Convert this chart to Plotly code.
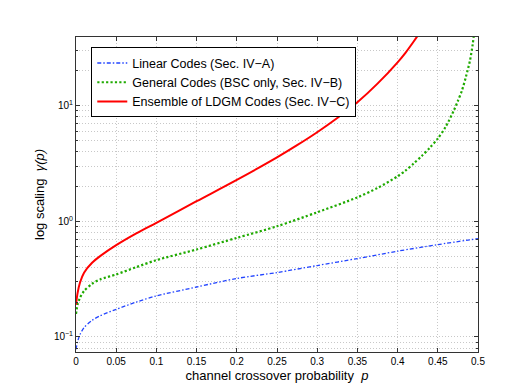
import plotly.graph_objects as go

# --- data ---
p_lin = [0, 0.002, 0.005, 0.01, 0.02, 0.03, 0.05, 0.075, 0.1, 0.15, 0.2, 0.25, 0.3, 0.35, 0.4, 0.45, 0.5]
g_lin = [0.078, 0.091, 0.105, 0.12, 0.139, 0.152, 0.173, 0.2, 0.226, 0.27, 0.32, 0.36, 0.414, 0.476, 0.551, 0.628, 0.708]

p_gen = [0, 0.002, 0.005, 0.01, 0.02, 0.03, 0.05, 0.075, 0.1, 0.15, 0.2, 0.25, 0.3, 0.35, 0.375,
         0.4, 0.41, 0.42, 0.43, 0.44, 0.45, 0.46, 0.47, 0.475, 0.48, 0.485, 0.49, 0.4934, 0.4955]
g_gen = [0.158, 0.191, 0.218, 0.249, 0.288, 0.314, 0.347, 0.401, 0.461, 0.57, 0.718, 0.905, 1.196, 1.61, 1.94,
         2.45, 2.75, 3.16, 3.67, 4.32, 5.19, 6.6, 9.1, 11.0, 13.5, 17.8, 24.5, 33.9, 44.7]

p_ldgm = [0, 0.002, 0.005, 0.01, 0.02, 0.03, 0.05, 0.075, 0.1, 0.15, 0.2, 0.25, 0.275, 0.3, 0.325, 0.35,
          0.375, 0.4, 0.41, 0.42, 0.425]
g_ldgm = [0.19, 0.24, 0.295, 0.359, 0.437, 0.499, 0.621, 0.785, 0.97, 1.49, 2.28, 3.57, 4.55, 5.89, 7.81, 10.7,
          15.5, 23.7, 28.8, 35.9, 40.3]

names = ["Linear Codes (Sec. IV\u2212A)",
         "General Codes (BSC only, Sec. IV\u2212B)",
         "Ensemble of LDGM Codes (Sec. IV\u2212C)"]

x_ticks = [0, 0.05, 0.1, 0.15, 0.2, 0.25, 0.3, 0.35, 0.4, 0.45, 0.5]
x_labels = ["0", "0.05", "0.1", "0.15", "0.2", "0.25", "0.3", "0.35", "0.4", "0.45", "0.5"]
y_ticks = [0.1, 1, 10]
y_labels = ["10<sup>\u22121</sup>", "10<sup>0</sup>", "10<sup>1</sup>"]
y_minor = [0.08, 0.09, 0.2, 0.3, 0.4, 0.5, 0.6, 0.7, 0.8, 0.9,
           2, 3, 4, 5, 6, 7, 8, 9, 20, 30]

fig = go.Figure()
fig.add_trace(go.Scatter(x=p_lin, y=g_lin, name=names[0], mode="lines",
                         line=dict(color="#2244ff", width=1.3, dash="4px,2px,1.5px,2px",
                                   shape="spline", smoothing=0.8)))
fig.add_trace(go.Scatter(x=p_gen, y=g_gen, name=names[1], mode="lines",
                         line=dict(color="#1faa00", width=2.2, dash="2.2px,2.2px",
                                   shape="spline", smoothing=0.8)))
fig.add_trace(go.Scatter(x=p_ldgm, y=g_ldgm, name=names[2], mode="lines",
                         line=dict(color="#ff0000", width=2, shape="spline", smoothing=0.8)))

font_family = "Liberation Sans, Arial, sans-serif"
grid_color = "#c8c8c8"

fig.update_layout(
    width=519, height=387, autosize=False,
    margin=dict(l=67.5, r=49.3, t=29, b=42.6),
    paper_bgcolor="white", plot_bgcolor="white",
    font=dict(family=font_family, size=10, color="black"),
    showlegend=True,
    legend=dict(x=0.038, y=0.967, xanchor="left", yanchor="top",
                bgcolor="white", bordercolor="black", borderwidth=1,
                font=dict(size=12.5, family=font_family), tracegroupgap=0,
                itemwidth=30),
)
fig.update_xaxes(range=[0, 0.5], tickvals=x_ticks, ticktext=x_labels, automargin=False,
                 showline=True, linecolor="#333333", linewidth=1, mirror="ticks",
                 ticks="inside", ticklen=4, tickcolor="#333333",
                 showgrid=True, gridcolor=grid_color, griddash="1px,2px", gridwidth=1,
                 zeroline=False,
                 title=dict(text="channel crossover probability  <i>p</i>", font=dict(size=13), standoff=4))
fig.update_yaxes(type="log", range=[-1.131, 1.594], tickvals=y_ticks, ticktext=y_labels, automargin=False,
                 showline=True, linecolor="#333333", linewidth=1, mirror="ticks",
                 ticks="inside", ticklen=4, tickcolor="#333333",
                 showgrid=True, gridcolor=grid_color, griddash="1px,2px", gridwidth=1,
                 minor=dict(tickmode="array", tickvals=y_minor,
                            ticks="inside", ticklen=2, tickcolor="#333333",
                            showgrid=True, gridcolor=grid_color, griddash="1px,2px", gridwidth=1),
                 zeroline=False,
                 title=dict(text="log scaling  <i>\u03b3(p)</i>", font=dict(size=13), standoff=6))

fig.write_html("out.html")
